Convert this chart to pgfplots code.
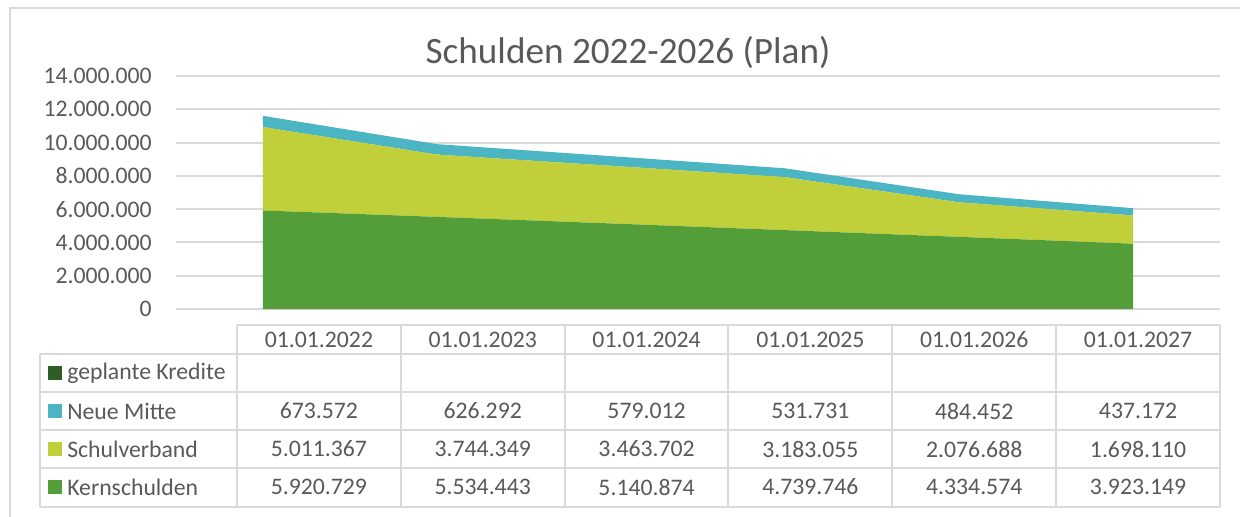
\documentclass[border=0pt]{standalone}
\usepackage{fontspec}
\setmainfont{Carlito}
\usepackage{pgfplots}
\pgfplotsset{compat=1.18}
\definecolor{kern}{RGB}{84,158,57}
\definecolor{schul}{RGB}{192,207,58}
\definecolor{neue}{RGB}{75,181,196}
\definecolor{geplant}{RGB}{46,93,38}
\definecolor{gridgray}{RGB}{217,217,217}
\definecolor{textgray}{RGB}{89,89,89}
\newcommand\tfont{\fontsize{17.8}{21}\selectfont}
\newcommand\titlefont{\fontsize{27.9}{33}\selectfont}
\begin{document}
\begin{tikzpicture}
\begin{scope}[x=0.75pt,y=-0.75pt]
\useasboundingbox (0,0) rectangle (1240,517);
\draw[gridgray, line width=1.5pt] (10,530) -- (10,8) -- (1250,8);
\node[text=textgray, font=\titlefont, anchor=center] at (628,52) {Schulden 2022-2026 (Plan)};
\end{scope}
\begin{axis}[
  at={({176*0.75pt},{-309*0.75pt})}, anchor=south west,
  scale only axis, width={1044*0.75pt}, height={233*0.75pt},
  xmin=-0.5, xmax=5.5, ymin=0, ymax=14000000,
  xtick=\empty,
  ytick={0,2000000,4000000,6000000,8000000,10000000,12000000,14000000},
  ymajorgrids, grid style={draw=gridgray, line width=1.5pt},
  axis line style={draw=none}, major tick length=0pt,
  scaled y ticks=false,
  yticklabel style={font=\tfont, text=textgray, anchor=east, inner sep=0pt, xshift=-18pt,
    /pgf/number format/.cd, fixed, 1000 sep={.}, assume math mode=true},
  stack plots=y, clip=false,
]
\addplot[fill=kern, draw=none] coordinates {(0,5920729) (1,5534443) (2,5140874) (3,4739746) (4,4334574) (5,3923149)} \closedcycle;
\addplot[fill=schul, draw=none] coordinates {(0,5011367) (1,3744349) (2,3463702) (3,3183055) (4,2076688) (5,1698110)} \closedcycle;
\addplot[fill=neue, draw=none] coordinates {(0,673572) (1,626292) (2,579012) (3,531731) (4,484452) (5,437172)} \closedcycle;
\end{axis}
\begin{scope}[x=0.75pt,y=-0.75pt]
% table grid
\draw[gridgray, line width=1.5pt] (237,325) -- (1220,325);
\foreach \yy in {354,392,430,468,507} {\draw[gridgray, line width=1.5pt] (40,\yy) -- (1220,\yy);}
\draw[gridgray, line width=1.5pt] (40,354) -- (40,507);
\foreach \i in {0,...,6} {\draw[gridgray, line width=1.5pt] ({237+163.83*\i},325) -- ({237+163.83*\i},507);}
% header
\foreach \lab [count=\i from 0] in {01.01.2022,01.01.2023,01.01.2024,01.01.2025,01.01.2026,01.01.2027}
  {\node[text=textgray, font=\tfont, inner sep=0pt] at ({237+163.83*(\i+0.5)},339.5) {\lab};}
% row labels
\fill[geplant] (48,366) rectangle (62,380);
\node[text=textgray, font=\tfont, anchor=west, inner sep=0pt] at (67,373) {geplante Kredite};
\fill[neue] (48,404) rectangle (62,418);
\node[text=textgray, font=\tfont, anchor=west, inner sep=0pt] at (67,411) {Neue Mitte};
\fill[schul] (48,442) rectangle (62,456);
\node[text=textgray, font=\tfont, anchor=west, inner sep=0pt] at (67,449) {Schulverband};
\fill[kern] (48,480) rectangle (62,494);
\node[text=textgray, font=\tfont, anchor=west, inner sep=0pt] at (67,487) {Kernschulden};
% values
\foreach \v [count=\i from 0] in {673.572,626.292,579.012,531.731,484.452,437.172}
  {\node[text=textgray, font=\tfont, inner sep=0pt] at ({237+163.83*(\i+0.5)},411) {\v};}
\foreach \v [count=\i from 0] in {5.011.367,3.744.349,3.463.702,3.183.055,2.076.688,1.698.110}
  {\node[text=textgray, font=\tfont, inner sep=0pt] at ({237+163.83*(\i+0.5)},449) {\v};}
\foreach \v [count=\i from 0] in {5.920.729,5.534.443,5.140.874,4.739.746,4.334.574,3.923.149}
  {\node[text=textgray, font=\tfont, inner sep=0pt] at ({237+163.83*(\i+0.5)},487) {\v};}
\end{scope}
\end{tikzpicture}
\end{document}
